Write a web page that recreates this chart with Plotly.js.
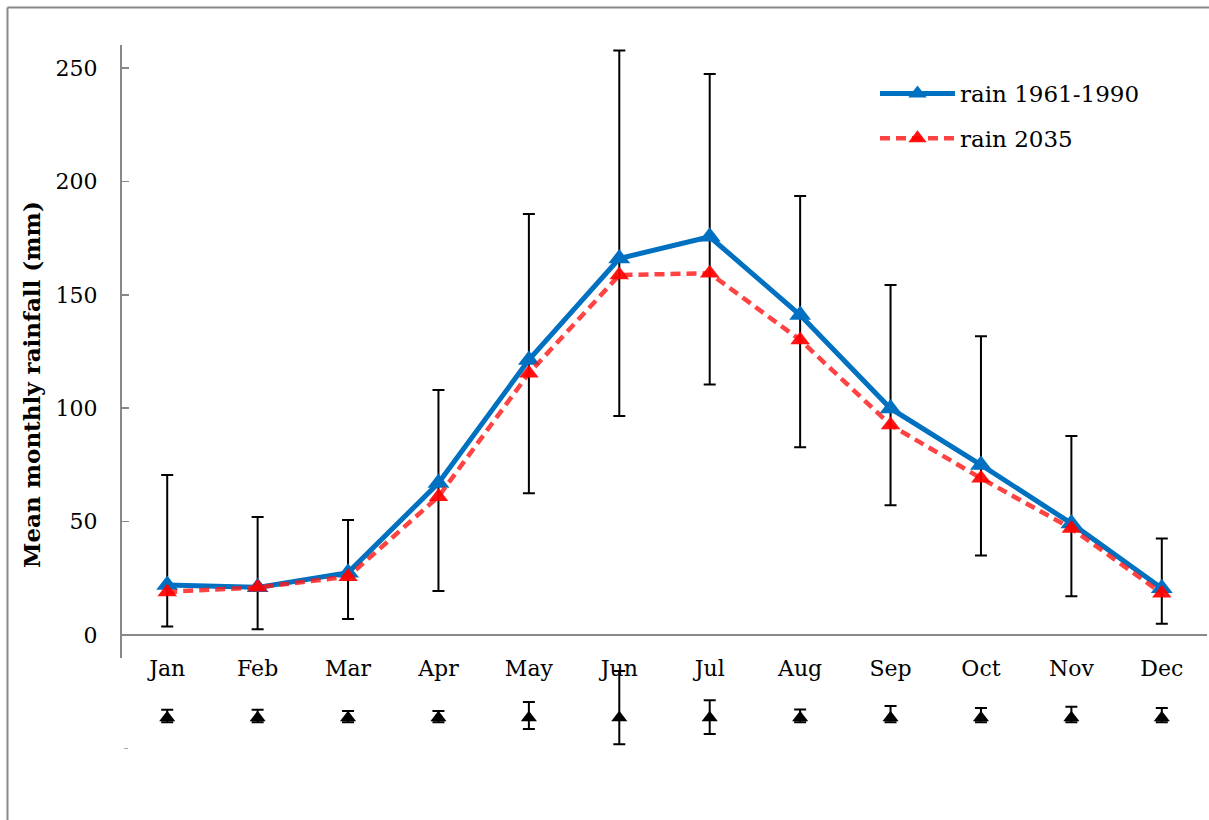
<!DOCTYPE html>
<html>
<head>
<meta charset="utf-8">
<script src="https://cdn.plot.ly/plotly-3.0.1.min.js"></script>
<style>
html,body{margin:0;padding:0;background:#fff;}
#chart{width:1209px;height:820px;}
</style>
</head>
<body>
<div id="chart"></div>
<script>
// ---- data ----
const months = ['Jan','Feb','Mar','Apr','May','Jun','Jul','Aug','Sep','Oct','Nov','Dec'];
const rain19611990 = [22, 21, 27.5, 67, 121.3, 166, 175.6, 141.1, 99.9, 75, 49.2, 20.6];
const rain2035 = [19, 21, 25.7, 61, 115.4, 158.7, 159.5, 130.1, 92.6, 69.1, 47, 18.4];
const errTop = [70.5, 52, 50.7, 108, 185.6, 257.7, 247.3, 193.6, 154.3, 131.7, 87.7, 42.6];
const errBottom = [3.7, 2.5, 7.1, 19.4, 62.5, 96.6, 110.4, 82.8, 57.2, 35.1, 17.1, 5];
// lower row of black triangles (below the axis)
const lowerSeries = [-36.5, -36.5, -36.5, -36.5, -36.5, -36.5, -36.5, -36.5, -36.5, -36.5, -36.5, -36.5];
const lowerTop = [-33, -33, -33.5, -33.5, -29.5, -15.9, -28.8, -32.9, -31.3, -32.2, -31.6, -32.2];
const lowerBottom = [-38.5, -38.5, -38.5, -38.5, -41.4, -48.2, -43.6, -38.5, -38.5, -38.5, -38.5, -38.5];
const yTitle = 'Mean monthly rainfall (mm)';

const FONT = 'DejaVu Serif';
const GREY = '#888888';

const errPlus = errTop.map((v, i) => v - rain19611990[i]);
const errMinus = errBottom.map((v, i) => rain19611990[i] - v);
const lowPlus = lowerTop.map((v, i) => v - lowerSeries[i]);
const lowMinus = lowerBottom.map((v, i) => lowerSeries[i] - v);

const traces = [
  {
    x: months, y: rain19611990, type: 'scatter', mode: 'markers',
    marker: {size: 1, color: 'rgba(0,0,0,0)'},
    error_y: {type: 'data', symmetric: false, array: errPlus, arrayminus: errMinus,
              color: '#000', thickness: 2, width: 6},
    showlegend: false, hoverinfo: 'skip'
  },
  {
    x: months, y: rain19611990, type: 'scatter', mode: 'lines+markers',
    name: 'rain 1961-1990', legendgroup: 'a',
    line: {color: '#0070C0', width: 5},
    marker: {symbol: 'triangle-up', size: 19, color: '#0070C0'}
  },
  {
    x: months, y: rain2035, type: 'scatter', mode: 'lines+markers',
    name: 'rain 2035', legendgroup: 'b',
    line: {color: 'rgba(255,25,25,0.82)', width: 4.5, dash: '10px,6px'},
    marker: {symbol: 'triangle-up', size: 17, color: 'rgba(255,0,0,0.92)'}
  },
  {
    x: months, y: lowerSeries, type: 'scatter', mode: 'markers',
    xaxis: 'x', yaxis: 'y2',
    marker: {symbol: 'triangle-up', size: 14, color: '#000'},
    error_y: {type: 'data', symmetric: false, array: lowPlus, arrayminus: lowMinus,
              color: '#000', thickness: 2, width: 6},
    showlegend: false, hoverinfo: 'skip'
  }
];

const W = 1209, H = 820;
const pxPerUnit = 2.268, zeroPx = 635;
const yTopPx = 45, yBotPx = 658;
const val = p => (zeroPx - p) / pxPerUnit;

const layout = {
  width: W, height: H,
  margin: {l: 0, r: 0, t: 0, b: 0},
  paper_bgcolor: '#fff', plot_bgcolor: 'rgba(0,0,0,0)',
  showlegend: true,
  legend: {
    x: 875 / W, y: 1 - 72 / H, xanchor: 'left', yanchor: 'top',
    font: {family: FONT, size: 23, color: '#000'},
    bgcolor: 'rgba(0,0,0,0)', traceorder: 'grouped', tracegroupgap: 12,
    itemwidth: 75
  },
  xaxis: {
    type: 'category', range: [-0.5, 11.5],
    domain: [122 / W, 1207 / W],
    anchor: 'y', showline: false, showgrid: false, zeroline: false,
    ticks: '', tickfont: {family: FONT, size: 22, color: '#000'},
    ticklabelstandoff: -5
  },
  yaxis: {
    range: [val(yBotPx), val(yTopPx)],
    domain: [1 - yBotPx / H, 1 - yTopPx / H],
    tickvals: [0, 50, 100, 150, 200, 250],
    showline: true, linecolor: GREY, linewidth: 2,
    zeroline: true, zerolinecolor: GREY, zerolinewidth: 2,
    showgrid: false,
    ticks: 'inside', ticklen: 7, tickcolor: GREY, tickwidth: 1.5,
    tickfont: {family: FONT, size: 22, color: '#000'},
    ticklabelstandoff: 18
  },
  yaxis2: {
    range: [val(H), val(yTopPx)],
    domain: [0, 1 - yTopPx / H],
    anchor: 'free', position: 123 / W,
    showline: false, showgrid: false, zeroline: false,
    tickvals: [-50], showticklabels: false,
    ticks: 'inside', ticklen: 4, tickcolor: '#aaaaaa', tickwidth: 1.5
  },
  annotations: [
    {text: '<b>' + yTitle + '</b>', xref: 'paper', yref: 'paper',
     x: 31 / W, y: 1 - 385 / H, textangle: -90, showarrow: false,
     xanchor: 'center', yanchor: 'middle',
     font: {family: FONT, size: 23, color: '#000'}}
  ],
  shapes: [
    {type: 'line', xref: 'paper', yref: 'paper', x0: 7.5 / W, x1: 1, y0: 1 - 7.5 / H, y1: 1 - 7.5 / H,
     line: {color: GREY, width: 2}},
    {type: 'line', xref: 'paper', yref: 'paper', x0: 7.5 / W, x1: 7.5 / W, y0: 0, y1: 1 - 7.5 / H,
     line: {color: GREY, width: 2}}
  ]
};

Plotly.newPlot('chart', traces, layout, {displayModeBar: false, staticPlot: true});
</script>
</body>
</html>
